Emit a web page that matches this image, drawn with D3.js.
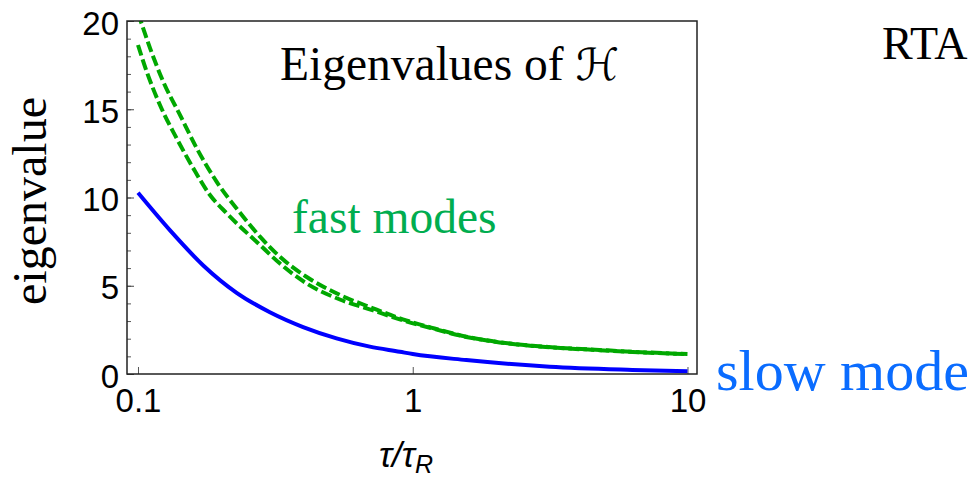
<!DOCTYPE html>
<html>
<head>
<meta charset="utf-8">
<script src="https://cdn.jsdelivr.net/npm/d3@7"></script>
<style>
  body { margin: 0; background: #fff; }
  svg { display: block; }
</style>
</head>
<body>
<svg id="chart" width="973" height="479"></svg>
<script>
// slow mode (solid blue)
const slowTau = [0.1, 0.1306, 0.1728, 0.2286, 0.302, 0.399, 0.528, 0.698, 0.897, 1.0, 1.567, 3.15, 6.3, 10];
const slowVal = [10.27, 8.15, 6.15, 4.6, 3.5, 2.66, 2.02, 1.55, 1.26, 1.13, 0.79, 0.41, 0.23, 0.15];

// fast modes (green dashed), upper and lower branch
const fastUpperTau = [0.1, 0.1023, 0.1107, 0.1236, 0.1423, 0.1635, 0.1932, 0.2348, 0.278, 0.328, 0.41, 0.543, 0.718, 0.92, 1.2, 1.566, 2.07, 2.73, 3.62, 4.78, 6.31, 10];
const fastUpperVal = [20.45, 20.0, 18.45, 16.56, 14.67, 12.8, 10.9, 9.15, 7.78, 6.65, 5.51, 4.48, 3.72, 3.1, 2.58, 2.12, 1.8, 1.6, 1.46, 1.36, 1.26, 1.13];
const fastLowerTau = [0.1, 0.1076, 0.1202, 0.1383, 0.159, 0.1828, 0.2104, 0.278, 0.328, 0.41, 0.543, 0.718, 0.92, 1.2, 1.566, 2.07, 2.73, 3.62, 4.78, 6.31, 10];
const fastLowerVal = [18.64, 17.13, 15.24, 13.35, 11.65, 10.14, 9.1, 7.31, 6.27, 5.14, 4.22, 3.6, 3.04, 2.55, 2.1, 1.79, 1.59, 1.45, 1.35, 1.25, 1.12];

const xTicks = [0.1, 1, 10];
const xTickLabels = ['0.1', '1', '10'];
const yTicks = [0, 5, 10, 15, 20];
const yMinorTicks = d3.range(0, 21);

const svg = d3.select('#chart');
const frame = { left: 127, right: 697, top: 21, bottom: 374 };

const x = d3.scaleLog().domain([0.0912, 10.83]).range([frame.left, frame.right]);
const y = d3.scaleLinear().domain([0, 20]).range([frame.bottom, frame.top]);

svg.append('defs').append('clipPath').attr('id', 'plot-clip')
  .append('rect')
  .attr('x', frame.left).attr('y', frame.top)
  .attr('width', frame.right - frame.left).attr('height', frame.bottom - frame.top);

// minor y ticks
svg.append('g')
  .attr('transform', `translate(${frame.left},0)`)
  .call(d3.axisLeft(y).tickValues(yMinorTicks).tickSize(-4).tickFormat(''))
  .call(g => g.select('.domain').remove())
  .call(g => g.selectAll('line').attr('stroke', '#555'));

// major y ticks
svg.append('g')
  .attr('transform', `translate(${frame.left},0)`)
  .call(d3.axisLeft(y).tickValues(yTicks).tickSize(-7).tickPadding(8))
  .call(g => g.select('.domain').remove())
  .call(g => g.selectAll('line').attr('stroke', '#444'))
  .call(g => g.selectAll('text')
    .attr('font-family', '"Liberation Sans", Arial, sans-serif')
    .attr('font-size', 33).attr('fill', '#000').attr('dy', '0.4em'));

// x ticks
svg.append('g')
  .attr('transform', `translate(0,${frame.bottom})`)
  .call(d3.axisBottom(x).tickValues(xTicks).tickSize(-7).tickPadding(15)
    .tickFormat((d, i) => xTickLabels[i]))
  .call(g => g.select('.domain').remove())
  .call(g => g.selectAll('line').attr('stroke', '#555'))
  .call(g => g.selectAll('text')
    .attr('font-family', '"Liberation Sans", Arial, sans-serif')
    .attr('font-size', 33).attr('fill', '#000'));

const line = d3.line()
  .x(d => x(d[0]))
  .y(d => y(d[1]))
  .curve(d3.curveMonotoneX);

const plot = svg.append('g').attr('clip-path', 'url(#plot-clip)');

plot.append('path')
  .datum(d3.zip(slowTau, slowVal))
  .attr('d', line)
  .attr('fill', 'none')
  .attr('stroke', '#0000ff')
  .attr('stroke-width', 4);

[[fastUpperTau, fastUpperVal], [fastLowerTau, fastLowerVal]].forEach(([t, v]) => {
  plot.append('path')
    .datum(d3.zip(t, v))
    .attr('d', line)
    .attr('fill', 'none')
    .attr('stroke', '#00a800')
    .attr('stroke-width', 4)
    .attr('stroke-dasharray', '11,4');
});

// frame
svg.append('rect')
  .attr('x', frame.left).attr('y', frame.top)
  .attr('width', frame.right - frame.left).attr('height', frame.bottom - frame.top)
  .attr('fill', 'none')
  .attr('stroke', '#222')
  .attr('stroke-width', 1.5);

const serif = '"Liberation Serif", "Times New Roman", serif';

// title inside the frame
const title = svg.append('text')
  .attr('x', 280).attr('y', 80)
  .attr('font-family', serif).attr('font-size', 47.5).attr('fill', '#000');
title.append('tspan').text('Eigenvalues of ');
title.append('tspan')
  .attr('font-family', '"DejaVu Serif", "DejaVu Sans", serif')
  .attr('font-style', 'italic')
  .attr('font-size', 44)
  .text('ℋ');

svg.append('text')
  .attr('x', 292).attr('y', 233)
  .attr('font-family', serif).attr('font-size', 47.5)
  .attr('fill', '#00ad4f')
  .text('fast modes');

svg.append('text')
  .attr('x', 716).attr('y', 390)
  .attr('font-family', serif).attr('font-size', 58)
  .attr('fill', '#0a6cff')
  .text('slow mode');

svg.append('text')
  .attr('x', 882).attr('y', 59)
  .attr('font-family', serif).attr('font-size', 46)
  .attr('fill', '#000')
  .text('RTA');

// axis titles
svg.append('text')
  .attr('transform', 'translate(46,201) rotate(-90)')
  .attr('text-anchor', 'middle')
  .attr('font-family', serif).attr('font-size', 48)
  .attr('fill', '#000')
  .text('eigenvalue');

const xLabel = svg.append('text')
  .attr('x', 379).attr('y', 467)
  .attr('font-family', '"Liberation Sans", Arial, sans-serif')
  .attr('font-style', 'italic')
  .attr('font-size', 35)
  .attr('fill', '#000');
xLabel.append('tspan').text('τ/τ');
xLabel.append('tspan').attr('font-size', 25).attr('dy', 6).text('R');
</script>
</body>
</html>
